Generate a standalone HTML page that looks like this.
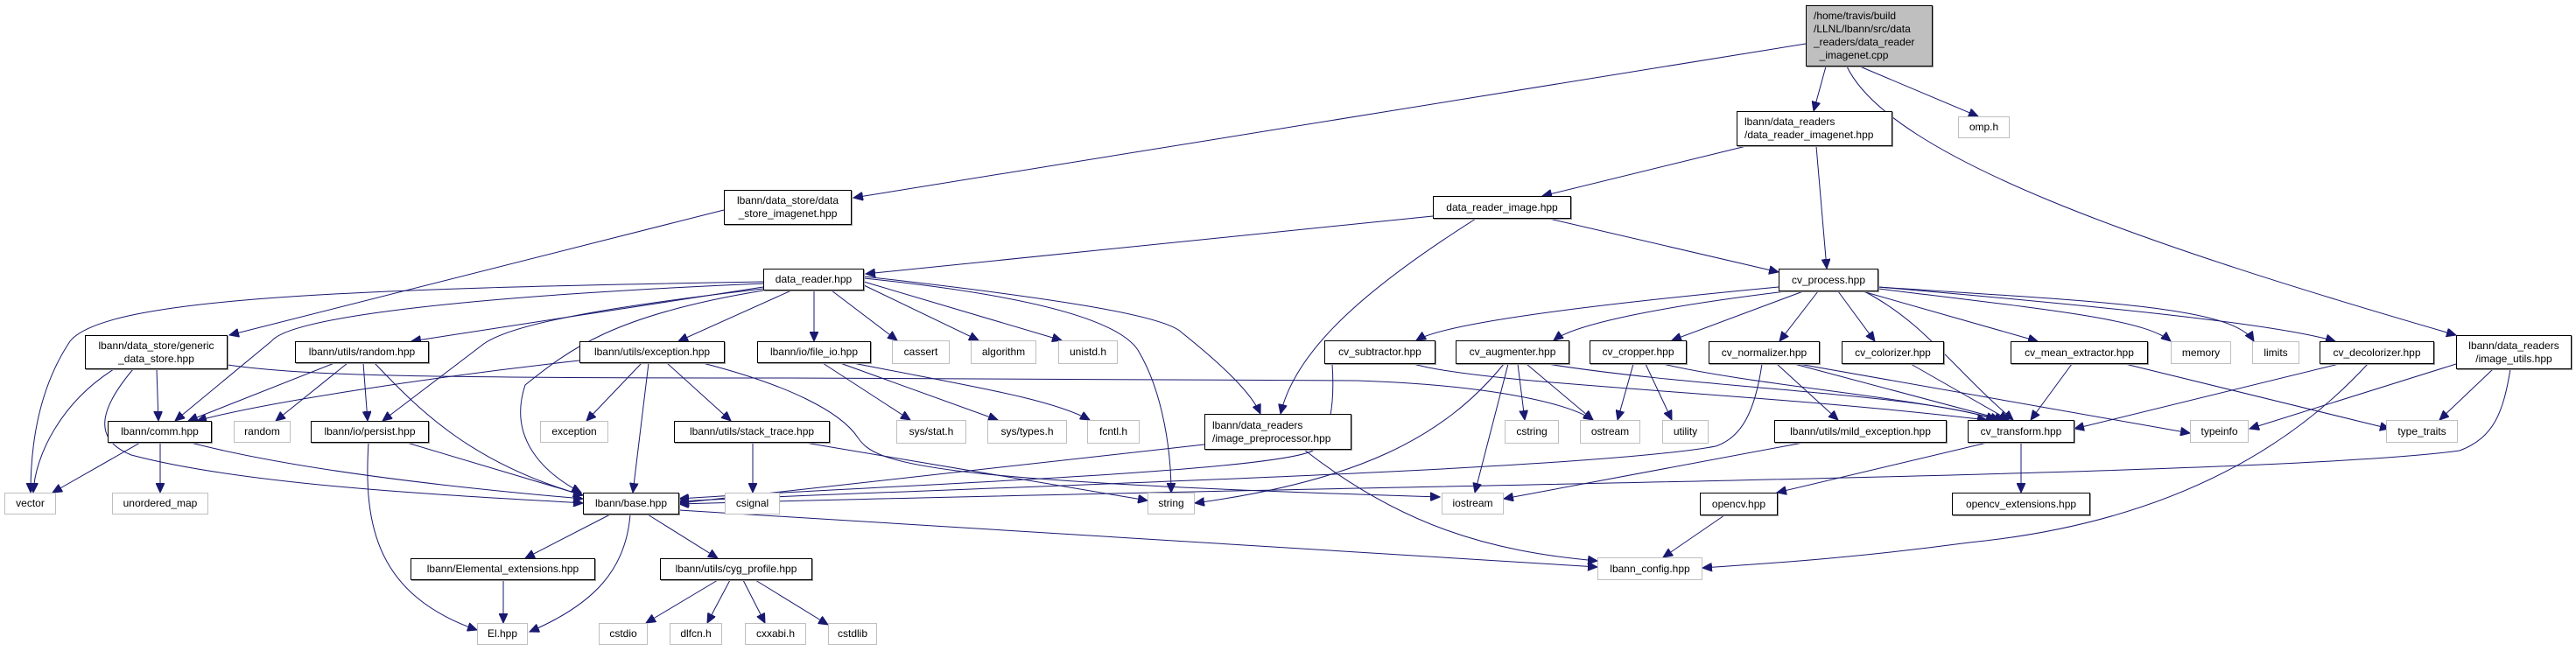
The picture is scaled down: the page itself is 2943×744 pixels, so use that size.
<!DOCTYPE html>
<html><head><meta charset="utf-8"><style>
html,body{margin:0;padding:0;background:#fff;}
body{width:2943px;height:744px;position:relative;overflow:hidden;font-family:"Liberation Sans",Arial,sans-serif;}
.n{position:absolute;box-sizing:border-box;border:1px solid #000;background:#fff;font-size:12px;line-height:15px;display:flex;align-items:center;justify-content:center;text-align:center;color:#000;white-space:nowrap;box-shadow:1px 1px 0 #999;}
.g{border-color:#bfbfbf;box-shadow:none;}
.l{text-align:left;justify-content:flex-start;padding-left:8px;}
svg{position:absolute;left:0;top:0;}
</style></head><body>
<svg width="2943" height="744" viewBox="0 0 2943 744">
<defs><marker id="a" markerUnits="userSpaceOnUse" markerWidth="12" markerHeight="10" refX="11" refY="5" orient="auto"><path d="M0,0 L11,5 L0,10 z" fill="#191970" stroke="#191970"/></marker></defs>
<g fill="none" stroke="#191970" stroke-width="1" marker-end="url(#a)">
<path d="M2063,50 L975,226"/>
<path d="M2086,76 L2072,127"/>
<path d="M2125,76 L2260,133"/>
<path d="M2110,76 C2160,180 2450,280 2806,383"/>
<path d="M1995,167 L1762,224"/>
<path d="M2075,167 L2087,307"/>
<path d="M827,240 L262,383"/>
<path d="M1637,247 L989,313"/>
<path d="M1686,250 C1560,330 1480,400 1463,473"/>
<path d="M1770,250 L2032,311"/>
<path d="M872,322 C400,330 120,340 80,390 C40,450 35,520 35,563"/>
<path d="M872,324 C500,340 330,365 310,390 L200,481"/>
<path d="M872,328 L470,390"/>
<path d="M872,330 C700,350 580,370 550,395 L437,481"/>
<path d="M872,332 C700,360 650,400 600,440 C580,500 620,540 664,563"/>
<path d="M904,332 L775,390"/>
<path d="M930,332 L930,390"/>
<path d="M950,332 L1025,389"/>
<path d="M987,326 L1118,389"/>
<path d="M987,322 L1213,389"/>
<path d="M987,318 C1200,340 1280,370 1300,400 C1330,450 1338,520 1338,563"/>
<path d="M987,316 C1200,340 1330,360 1350,380 C1400,420 1430,450 1440,473"/>
<path d="M130,422 C70,460 40,520 38,563"/>
<path d="M179,422 L181,481"/>
<path d="M152,422 C120,460 100,500 150,520 C300,560 600,570 666,575"/>
<path d="M260,417 C350,430 500,432 900,432 L1550,435 C1700,440 1790,460 1820,480"/>
<path d="M382,415 L215,481"/>
<path d="M397,415 L315,481"/>
<path d="M415,415 L420,481"/>
<path d="M428,415 C480,470 540,530 666,566"/>
<path d="M662,412 C500,430 300,460 225,481"/>
<path d="M733,415 L670,481"/>
<path d="M741,415 L723,563"/>
<path d="M762,415 L835,481"/>
<path d="M803,415 C900,440 960,470 980,500 C1000,530 1050,550 1645,568"/>
<path d="M940,415 L1040,480"/>
<path d="M960,415 L1140,480"/>
<path d="M975,415 C1100,440 1200,455 1245,480"/>
<path d="M160,506 L60,563"/>
<path d="M183,506 L183,563"/>
<path d="M218,506 C350,540 550,560 666,570"/>
<path d="M465,506 L666,566"/>
<path d="M421,506 C415,600 430,680 545,720"/>
<path d="M860,506 L860,563"/>
<path d="M920,506 L1311,572"/>
<path d="M697,588 L600,638"/>
<path d="M740,588 L820,638"/>
<path d="M720,588 C715,650 680,690 605,722"/>
<path d="M776,583 L1825,648"/>
<path d="M575,663 L575,712"/>
<path d="M820,663 L738,712"/>
<path d="M834,663 L808,712"/>
<path d="M849,663 L874,712"/>
<path d="M863,663 L946,714"/>
<path d="M1376,508 L776,575"/>
<path d="M1490,514 C1600,600 1700,630 1825,641"/>
<path d="M2032,328 C1800,350 1650,370 1618,389"/>
<path d="M2040,333 C1900,350 1800,370 1775,389"/>
<path d="M2060,333 L1910,389"/>
<path d="M2077,333 L2033,390"/>
<path d="M2100,333 L2142,390"/>
<path d="M2128,333 L2328,390"/>
<path d="M2146,330 C2350,355 2450,365 2480,390"/>
<path d="M2146,328 C2400,345 2550,350 2575,390"/>
<path d="M2146,328 C2400,350 2600,370 2668,390"/>
<path d="M2130,333 C2200,370 2230,420 2300,480"/>
<path d="M1522,416 C1525,460 1520,500 1500,515 C1450,540 1000,555 776,570"/>
<path d="M1615,416 C1700,440 2000,448 2270,480"/>
<path d="M1718,416 C1650,500 1550,550 1365,575"/>
<path d="M1723,416 L1685,563"/>
<path d="M1734,416 L1742,480"/>
<path d="M1744,416 L1820,480"/>
<path d="M1768,416 C1950,445 2200,450 2280,480"/>
<path d="M1866,416 L1848,480"/>
<path d="M1880,416 L1910,480"/>
<path d="M1900,416 C2000,440 2200,455 2285,480"/>
<path d="M2013,416 C2005,470 1990,500 1960,510 C1800,540 1000,560 776,573"/>
<path d="M2030,416 L2100,480"/>
<path d="M2050,416 L2290,480"/>
<path d="M2055,416 L2502,495"/>
<path d="M2060,506 L1718,570"/>
<path d="M2183,416 L2295,480"/>
<path d="M2367,416 L2320,480"/>
<path d="M2428,416 L2730,490"/>
<path d="M2672,416 L2370,490"/>
<path d="M2705,416 C2600,530 2450,600 2250,620 C2100,640 2000,645 1945,649"/>
<path d="M2806,416 L2570,490"/>
<path d="M2848,422 L2787,480"/>
<path d="M2868,422 C2860,470 2850,500 2810,515 C2600,545 1500,555 776,576"/>
<path d="M2270,506 L2030,563"/>
<path d="M2309,506 L2309,563"/>
<path d="M1970,589 L1900,637"/>
</g></svg>

<div class="n l" style="left:2063px;top:6px;width:145px;height:70px;background:#bfbfbf;line-height:15px;white-space:normal;">/home/travis/build<br>/LLNL/lbann/src/data<br>_readers/data_reader<br>&nbsp;&nbsp;_imagenet.cpp</div>
<div class="n" style="left:827px;top:217px;width:146px;height:40px;">lbann/data_store/data<br>_store_imagenet.hpp</div>
<div class="n l" style="left:1984px;top:127px;width:178px;height:40px;">lbann/data_readers<br>/data_reader_imagenet.hpp</div>
<div class="n g" style="left:2237px;top:133px;width:59px;height:25px;">omp.h</div>
<div class="n" style="left:1637px;top:224px;width:158px;height:26px;">data_reader_image.hpp</div>
<div class="n" style="left:872px;top:307px;width:115px;height:25px;">data_reader.hpp</div>
<div class="n" style="left:2032px;top:307px;width:114px;height:26px;">cv_process.hpp</div>
<div class="n" style="left:97px;top:383px;width:163px;height:39px;">lbann/data_store/generic<br>_data_store.hpp</div>
<div class="n" style="left:337px;top:390px;width:153px;height:25px;">lbann/utils/random.hpp</div>
<div class="n" style="left:662px;top:390px;width:166px;height:25px;">lbann/utils/exception.hpp</div>
<div class="n" style="left:865px;top:390px;width:130px;height:25px;">lbann/io/file_io.hpp</div>
<div class="n g" style="left:1019px;top:389px;width:66px;height:27px;">cassert</div>
<div class="n g" style="left:1109px;top:389px;width:75px;height:27px;">algorithm</div>
<div class="n g" style="left:1209px;top:389px;width:68px;height:27px;">unistd.h</div>
<div class="n" style="left:1513px;top:389px;width:127px;height:27px;">cv_subtractor.hpp</div>
<div class="n" style="left:1663px;top:389px;width:130px;height:27px;">cv_augmenter.hpp</div>
<div class="n" style="left:1816px;top:389px;width:111px;height:27px;">cv_cropper.hpp</div>
<div class="n" style="left:1952px;top:390px;width:127px;height:26px;">cv_normalizer.hpp</div>
<div class="n" style="left:2104px;top:390px;width:117px;height:26px;">cv_colorizer.hpp</div>
<div class="n" style="left:2297px;top:390px;width:157px;height:26px;">cv_mean_extractor.hpp</div>
<div class="n g" style="left:2480px;top:390px;width:69px;height:26px;">memory</div>
<div class="n g" style="left:2573px;top:390px;width:54px;height:26px;">limits</div>
<div class="n" style="left:2650px;top:390px;width:131px;height:26px;">cv_decolorizer.hpp</div>
<div class="n" style="left:2806px;top:383px;width:132px;height:39px;">lbann/data_readers<br>/image_utils.hpp</div>
<div class="n" style="left:123px;top:481px;width:119px;height:25px;">lbann/comm.hpp</div>
<div class="n g" style="left:267px;top:481px;width:65px;height:25px;">random</div>
<div class="n" style="left:355px;top:481px;width:135px;height:25px;">lbann/io/persist.hpp</div>
<div class="n g" style="left:617px;top:481px;width:78px;height:25px;">exception</div>
<div class="n" style="left:770px;top:481px;width:178px;height:25px;">lbann/utils/stack_trace.hpp</div>
<div class="n g" style="left:1024px;top:480px;width:80px;height:27px;">sys/stat.h</div>
<div class="n g" style="left:1128px;top:480px;width:91px;height:27px;">sys/types.h</div>
<div class="n g" style="left:1242px;top:480px;width:60px;height:27px;">fcntl.h</div>
<div class="n l" style="left:1376px;top:473px;width:168px;height:41px;">lbann/data_readers<br>/image_preprocessor.hpp</div>
<div class="n g" style="left:1719px;top:480px;width:62px;height:27px;">cstring</div>
<div class="n g" style="left:1805px;top:480px;width:69px;height:27px;">ostream</div>
<div class="n g" style="left:1899px;top:480px;width:53px;height:27px;">utility</div>
<div class="n" style="left:2027px;top:480px;width:197px;height:26px;">lbann/utils/mild_exception.hpp</div>
<div class="n" style="left:2248px;top:480px;width:122px;height:26px;">cv_transform.hpp</div>
<div class="n g" style="left:2502px;top:480px;width:67px;height:26px;">typeinfo</div>
<div class="n g" style="left:2726px;top:480px;width:82px;height:26px;">type_traits</div>
<div class="n g" style="left:5px;top:563px;width:59px;height:25px;">vector</div>
<div class="n g" style="left:128px;top:563px;width:110px;height:25px;">unordered_map</div>
<div class="n" style="left:666px;top:563px;width:110px;height:25px;">lbann/base.hpp</div>
<div class="n g" style="left:828px;top:563px;width:63px;height:25px;">csignal</div>
<div class="n g" style="left:1311px;top:563px;width:54px;height:25px;">string</div>
<div class="n g" style="left:1647px;top:563px;width:71px;height:25px;">iostream</div>
<div class="n" style="left:1942px;top:563px;width:89px;height:26px;">opencv.hpp</div>
<div class="n" style="left:2230px;top:563px;width:158px;height:26px;">opencv_extensions.hpp</div>
<div class="n" style="left:469px;top:638px;width:211px;height:25px;">lbann/Elemental_extensions.hpp</div>
<div class="n" style="left:754px;top:638px;width:174px;height:25px;">lbann/utils/cyg_profile.hpp</div>
<div class="n g" style="left:1825px;top:637px;width:120px;height:26px;">lbann_config.hpp</div>
<div class="n g" style="left:545px;top:712px;width:58px;height:25px;">El.hpp</div>
<div class="n g" style="left:684px;top:712px;width:56px;height:25px;">cstdio</div>
<div class="n g" style="left:765px;top:712px;width:60px;height:25px;">dlfcn.h</div>
<div class="n g" style="left:851px;top:712px;width:70px;height:25px;">cxxabi.h</div>
<div class="n g" style="left:946px;top:712px;width:56px;height:25px;">cstdlib</div>
</body></html>
